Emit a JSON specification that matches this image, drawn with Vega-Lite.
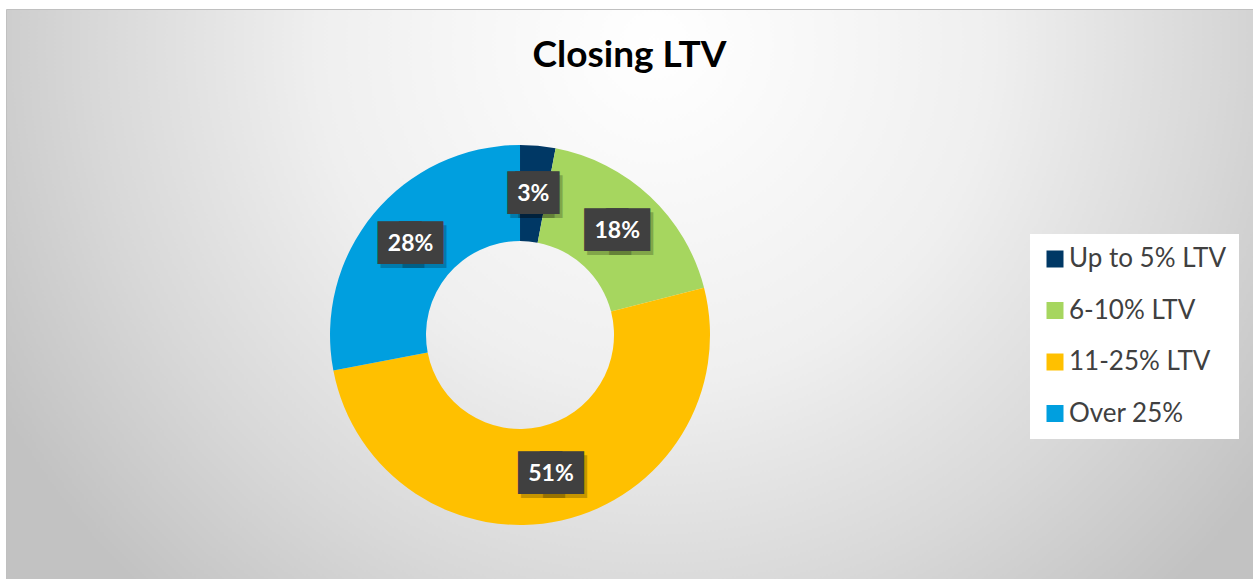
{
  "$schema": "https://vega.github.io/schema/vega-lite/v6.json",
  "autosize": {"type": "fit", "contains": "padding"},
  "width": 1253,
  "height": 579,
  "padding": {"left": 6, "top": 9, "right": 0, "bottom": 0},
  "background": "white",
  "title": {
    "text": "Closing LTV",
    "font": "Lato",
    "fontSize": 37,
    "fontWeight": "bold",
    "color": "#000000",
    "anchor": "middle",
    "frame": "group",
    "orient": "top",
    "offset": -95,
    "baseline": "alphabetic"
  },
  "view": {
    "fill": {
      "gradient": "radial",
      "x1": 0.52, "y1": 0.3, "r1": 0,
      "x2": 0.52, "y2": 0.3, "r2": 0.6,
      "stops": [
        {"offset": 0, "color": "#ffffff"},
        {"offset": 0.45, "color": "#efefef"},
        {"offset": 0.75, "color": "#d8d8d8"},
        {"offset": 1, "color": "#c2c2c2"}
      ]
    },
    "stroke": "#c0c0c0"
  },
  "data": {
    "values": [
      {"category": "Up to 5% LTV", "share": 0.03, "rank": 1},
      {"category": "6-10% LTV", "share": 0.18, "rank": 2},
      {"category": "11-25% LTV", "share": 0.51, "rank": 3},
      {"category": "Over 25%", "share": 0.28, "rank": 4}
    ]
  },
  "encoding": {
    "theta": {"field": "share", "type": "quantitative", "stack": true},
    "order": {"field": "rank", "type": "quantitative"}
  },
  "layer": [
    {
      "mark": {
        "type": "arc",
        "innerRadius": 94,
        "outerRadius": 190,
        "x": {"expr": "width*0.4122"},
        "y": {"expr": "height*0.5719"}
      },
      "encoding": {
        "color": {
          "field": "category",
          "type": "nominal",
          "scale": {
            "domain": ["Up to 5% LTV", "6-10% LTV", "11-25% LTV", "Over 25%"],
            "range": ["#003865", "#A6D65F", "#FFC000", "#009FDF"]
          },
          "legend": {
            "title": null,
            "orient": "none",
            "legendX": 1024,
            "legendY": 225,
            "fillColor": "white",
            "padding": 12,
            "symbolType": "square",
            "symbolSize": 289,
            "symbolStrokeWidth": 0,
            "labelFont": "Lato",
            "labelFontSize": 26,
            "labelColor": "#404040",
            "labelLimit": 300,
            "rowPadding": 25.5,
            "labelOffset": 1
          }
        }
      }
    },
    {
      "mark": {
        "type": "text",
        "text": "██",
        "font": "DejaVu Sans Mono",
        "fontSize": 36,
        "baseline": "middle",
        "align": "center",
        "color": "#000000",
        "opacity": 0.22,
        "radius": 142,
        "x": {"expr": "width*0.4122"},
        "y": {"expr": "height*0.5719"},
        "dx": {"expr": "datum.share < 0.1 ? -1 : -8"},
        "dy": 4
      }
    },
    {
      "mark": {
        "type": "text",
        "text": "██",
        "font": "DejaVu Sans Mono",
        "fontSize": 36,
        "baseline": "middle",
        "align": "center",
        "color": "#000000",
        "opacity": 0.22,
        "radius": 142,
        "x": {"expr": "width*0.4122"},
        "y": {"expr": "height*0.5719"},
        "dx": {"expr": "datum.share < 0.1 ? 7 : 14"},
        "dy": 4
      }
    },
    {
      "mark": {
        "type": "text",
        "text": "██",
        "font": "DejaVu Sans Mono",
        "fontSize": 36,
        "baseline": "middle",
        "align": "center",
        "color": "#404040",
        "radius": 142,
        "x": {"expr": "width*0.4122"},
        "y": {"expr": "height*0.5719"},
        "dx": {"expr": "datum.share < 0.1 ? -4 : -11"}
      }
    },
    {
      "mark": {
        "type": "text",
        "text": "██",
        "font": "DejaVu Sans Mono",
        "fontSize": 36,
        "baseline": "middle",
        "align": "center",
        "color": "#404040",
        "radius": 142,
        "x": {"expr": "width*0.4122"},
        "y": {"expr": "height*0.5719"},
        "dx": {"expr": "datum.share < 0.1 ? 4 : 11"}
      }
    },
    {
      "mark": {
        "type": "text",
        "font": "Lato",
        "fontSize": 23,
        "fontWeight": "bold",
        "baseline": "middle",
        "align": "center",
        "color": "#ffffff",
        "radius": 142,
        "x": {"expr": "width*0.4122"},
        "y": {"expr": "height*0.5719"}
      },
      "encoding": {
        "text": {"field": "share", "type": "quantitative", "format": ".0%"}
      }
    }
  ]
}
